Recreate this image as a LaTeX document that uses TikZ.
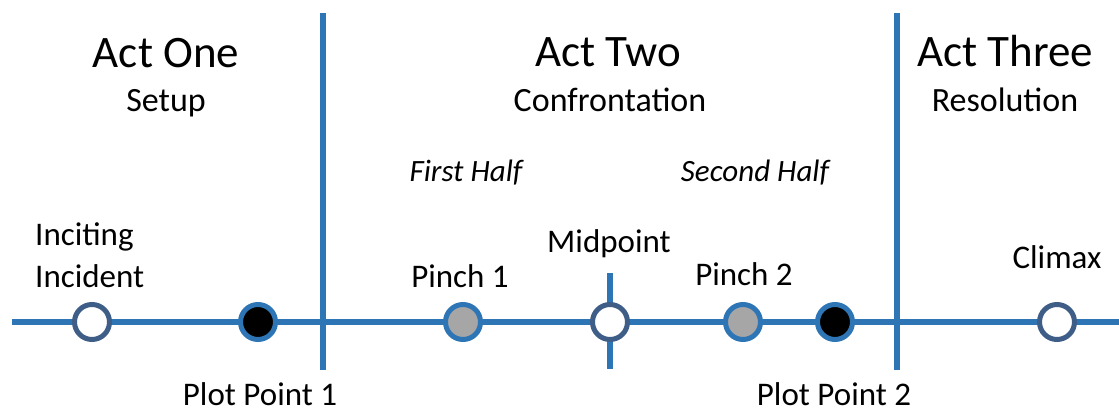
\documentclass[tikz,border=0pt]{standalone}
\usepackage{fontspec}
\setmainfont{Carlito}
\definecolor{lineblue}{HTML}{2E75B6}
\definecolor{slate}{HTML}{3F5E87}
\definecolor{pinchgray}{HTML}{A6A6A6}
\begin{document}
\begin{tikzpicture}[x=1pt,y=-1pt,
  axis/.style={draw=lineblue,line width=6.5pt},
  opendot/.style={circle,draw=slate,line width=5pt,fill=white,minimum size=35pt,inner sep=0pt},
  pinchdot/.style={circle,draw=lineblue,line width=5pt,fill=pinchgray,minimum size=35pt,inner sep=0pt},
  plotdot/.style={circle,draw=lineblue,line width=5pt,fill=black,minimum size=35pt,inner sep=0pt},
  title/.style={anchor=base,inner sep=0pt,font=\fontsize{45}{50}\selectfont},
  subtitle/.style={anchor=base,inner sep=0pt,font=\fontsize{34}{38}\selectfont},
  half/.style={anchor=base,inner sep=0pt,font=\fontsize{31}{34}\selectfont\itshape},
  label/.style={anchor=base,inner sep=0pt,font=\fontsize{33}{37}\selectfont}]
\useasboundingbox (0,0) rectangle (1119,414);
% coordinates
\coordinate (L) at (12,322);
\coordinate (R) at (1119,322);
\coordinate (v1t) at (323,13);
\coordinate (v1b) at (323,370);
\coordinate (v2t) at (897,13);
\coordinate (v2b) at (897,370);
\coordinate (mt) at (610,273);
\coordinate (mb) at (610,369);
% lines
\draw[axis] (L) -- (R);
\draw[axis] (v1t) -- (v1b);
\draw[axis] (v2t) -- (v2b);
\draw[axis] (mt) -- (mb);
% dots
\node[opendot] (inc) at (92,322) {};
\node[plotdot] (pp1) at (258,322) {};
\node[pinchdot] (p1) at (463,322) {};
\node[opendot] (mid) at (610,322) {};
\node[pinchdot] (p2) at (743,322) {};
\node[plotdot] (pp2) at (835,322) {};
\node[opendot] (cl) at (1057,322) {};
% titles
\node[title] (a1) at (166,68) {Act One};
\node[subtitle] (s1) at (166,112) {Setup};
\node[title] (a2) at (608,67) {Act Two};
\node[subtitle] (s2) at (610,112) {Confrontation};
\node[title] (a3) at (1005,67) {Act Three};
\node[subtitle] (s3) at (1005,112) {Resolution};
\node[half] (h1) at (466,182) {First Half};
\node[half] (h2) at (755,182) {Second Half};
% labels
\node[label,anchor=base west] (incl1) at (35,245) {Inciting};
\node[label,anchor=base west] (incl2) at (35,287) {Incident};
\node[label] (midl) at (609,252) {Midpoint};
\node[label] (p1l) at (460,287) {Pinch 1};
\node[label] (p2l) at (744,285) {Pinch 2};
\node[label] (cll) at (1057,268) {Climax};
\node[label] (pp1l) at (260,405) {Plot Point 1};
\node[label] (pp2l) at (834,405) {Plot Point 2};
\end{tikzpicture}
\end{document}
